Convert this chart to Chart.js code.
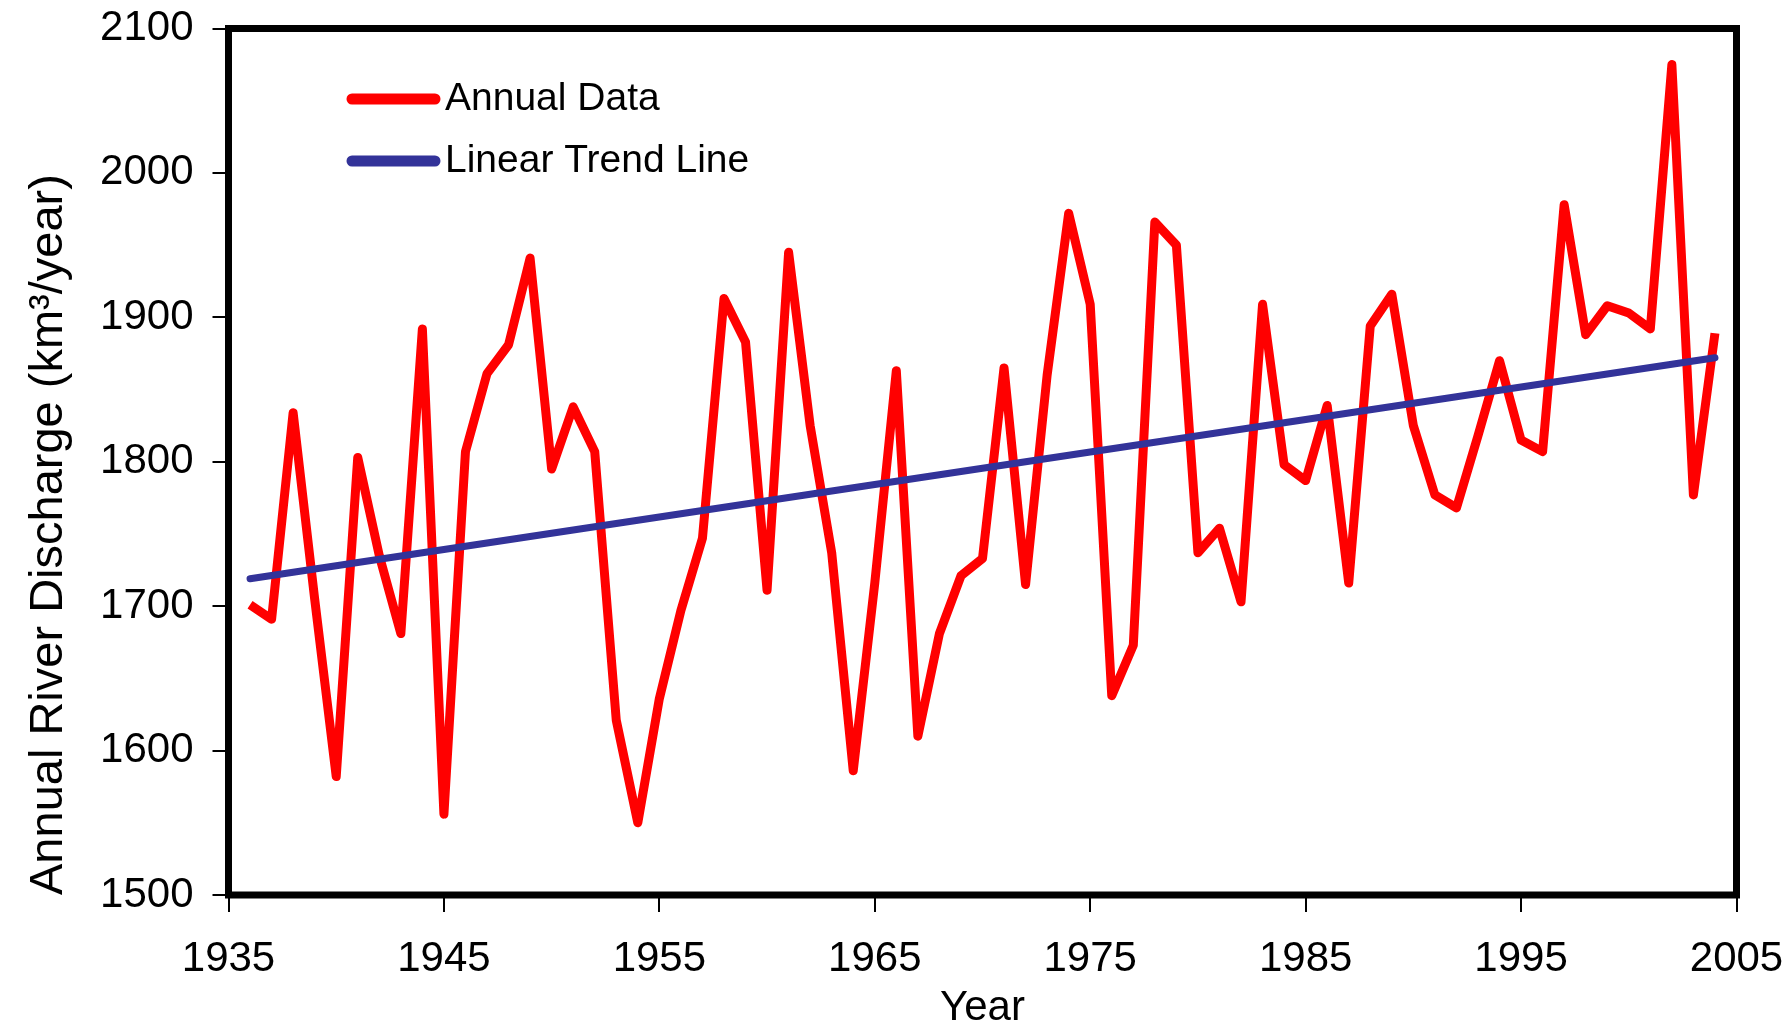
<!DOCTYPE html>
<html>
<head>
<meta charset="utf-8">
<script src="https://cdn.jsdelivr.net/npm/chart.js@4.4.1/dist/chart.umd.min.js"></script>
<style>
html,body{margin:0;padding:0;background:#fff;overflow:hidden;}
canvas{display:block;}
</style>
</head>
<body>
<canvas id="c" width="1790" height="1029"></canvas>
<script>
// ---- data ----
const years = [1936,1937,1938,1939,1940,1941,1942,1943,1944,1945,
               1946,1947,1948,1949,1950,1951,1952,1953,1954,1955,
               1956,1957,1958,1959,1960,1961,1962,1963,1964,1965,
               1966,1967,1968,1969,1970,1971,1972,1973,1974,1975,
               1976,1977,1978,1979,1980,1981,1982,1983,1984,1985,
               1986,1987,1988,1989,1990,1991,1992,1993,1994,1995,
               1996,1997,1998,1999,2000,2001,2002,2003,2004];
const annualDischarge = [1701,1691,1834,1705,1582,1803,1735,1681,1892,1556,
                         1807,1861,1881,1941,1795,1838,1807,1621,1550,1636,
                         1697,1747,1913,1883,1711,1945,1825,1737,1586,1716,
                         1863,1610,1681,1721,1733,1865,1715,1860,1972,1909,
                         1638,1673,1966,1950,1737,1754,1703,1909,1798,1787,
                         1839,1716,1894,1916,1825,1777,1768,1818,1870,1815,
                         1807,1978,1888,1908,1903,1892,2075,1777,1889];
const trendYears = [1936, 2004];
const trendValues = [1719, 1872];
const xTicks = [1935,1945,1955,1965,1975,1985,1995,2005];
const yTicks = [1500,1600,1700,1800,1900,2000,2100];
const seriesLabels = ['Annual Data', 'Linear Trend Line'];
const xTitle = 'Year';
const yTitle = 'Annual River Discharge (km\u00B3/year)';

const FONT = "'Liberation Sans', Arial, sans-serif";

function noPad(s) {
  s.paddingTop = 0; s.paddingBottom = 0; s.paddingLeft = 0; s.paddingRight = 0;
}

const framePlugin = {
  id: 'frame',
  afterDatasetsDraw(chart) {
    const a = chart.chartArea, ctx = chart.ctx;
    ctx.save();
    ctx.strokeStyle = '#000';
    ctx.lineWidth = 7;
    ctx.strokeRect(a.left, a.top, a.right - a.left, a.bottom - a.top);
    ctx.restore();
  }
};

const insideLegend = {
  id: 'insideLegend',
  afterDraw(chart) {
    const ctx = chart.ctx;
    const ds = chart.data.datasets;
    const order = [0, 1];
    const rows = [99, 161];
    ctx.save();
    ctx.font = '39px ' + FONT;
    ctx.textBaseline = 'middle';
    ctx.textAlign = 'left';
    order.forEach((di, i) => {
      const d = ds[di];
      const y = rows[i];
      ctx.strokeStyle = d.borderColor;
      ctx.lineWidth = 11;
      ctx.lineCap = 'round';
      ctx.beginPath();
      ctx.moveTo(352, y);
      ctx.lineTo(435, y);
      ctx.stroke();
      ctx.fillStyle = '#000';
      ctx.fillText(d.label, 445, y);
    });
    ctx.restore();
  }
};

new Chart(document.getElementById('c'), {
  type: 'line',
  data: {
    datasets: [
      {
        label: seriesLabels[0],
        data: years.map((yr, i) => ({x: yr, y: annualDischarge[i]})),
        borderColor: '#FF0000',
        backgroundColor: '#FF0000',
        borderWidth: 9,
        pointRadius: 0,
        tension: 0,
        borderJoinStyle: 'round',
        order: 1
      },
      {
        label: seriesLabels[1],
        data: trendYears.map((yr, i) => ({x: yr, y: trendValues[i]})),
        borderColor: '#333399',
        backgroundColor: '#333399',
        borderWidth: 7,
        borderCapStyle: 'round',
        pointRadius: 0,
        tension: 0,
        order: 0
      }
    ]
  },
  options: {
    responsive: false,
    devicePixelRatio: 1,
    animation: false,
    layout: { padding: { left: 0, top: 28.5, right: 53.5, bottom: 0 } },
    plugins: {
      legend: { display: false },
      tooltip: { enabled: false },
      title: { display: false }
    },
    scales: {
      x: {
        type: 'linear',
        min: xTicks[0],
        max: xTicks[xTicks.length - 1],
        afterBuildTicks: s => { s.ticks = xTicks.map(v => ({value: v})); },
        afterFit: s => { s.height = 134; noPad(s); },
        grid: { display: true, drawOnChartArea: false, drawTicks: true, tickLength: 17, tickWidth: 2, tickColor: '#000', color: '#000', lineWidth: 2 },
        border: { display: false },
        ticks: {
          color: '#000',
          font: { family: FONT, size: 42 },
          padding: 22,
          maxRotation: 0,
          autoSkip: false,
          callback: v => String(v)
        },
        title: {
          display: true,
          text: xTitle,
          color: '#000',
          font: { family: FONT, size: 42 },
          padding: { top: 0, bottom: -5 }
        }
      },
      y: {
        type: 'linear',
        min: yTicks[0],
        max: yTicks[yTicks.length - 1],
        afterBuildTicks: s => { s.ticks = yTicks.map(v => ({value: v})); },
        afterFit: s => { s.width = 228.5; noPad(s); },
        grid: { display: true, drawOnChartArea: false, drawTicks: true, tickLength: 16, tickWidth: 2, tickColor: '#000', color: '#000', lineWidth: 2 },
        border: { display: false },
        ticks: {
          color: '#000',
          font: { family: FONT, size: 42 },
          padding: 19,
          callback: v => String(v)
        },
        title: {
          display: true,
          text: yTitle,
          align: 'start',
          color: '#000',
          font: { family: FONT, size: 47 },
          padding: { top: 21, bottom: 0 }
        }
      }
    }
  },
  plugins: [framePlugin, insideLegend]
});
</script>
</body>
</html>
